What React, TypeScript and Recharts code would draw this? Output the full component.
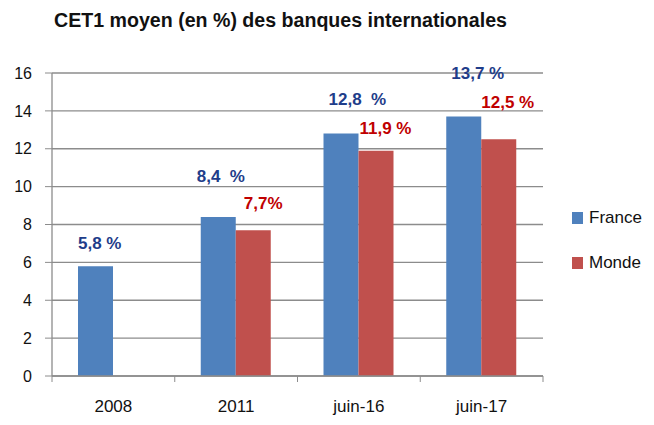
import { BarChart, Bar, XAxis, YAxis, CartesianGrid, LabelList } from 'recharts';

// ---------------------------------------------------------------------------
// Data
// ---------------------------------------------------------------------------
const periods = ['2008', '2011', 'juin-16', 'juin-17'];
const franceValues = [5.8, 8.4, 12.8, 13.7];
const mondeValues: (number | null)[] = [null, 7.7, 11.9, 12.5];
const franceLabels = ['5,8 %', '8,4  %', '12,8  %', '13,7 %'];
const mondeLabels = ['', '7,7%', '11,9 %', '12,5 %'];
const yTicks = [0, 2, 4, 6, 8, 10, 12, 14, 16];

const chartData = periods.map((period, i) => ({
  period,
  france: franceValues[i],
  monde: mondeValues[i],
}));

// ---------------------------------------------------------------------------
// Theme
// ---------------------------------------------------------------------------
const FONT = '"Liberation Sans", Arial, sans-serif';
const BLUE = '#4F81BD';
const RED = '#C0504D';
const BLUE_TEXT = '#1F3D8A';
const RED_TEXT = '#C00000';
const GRID = '#8C8C8C';

// label nudges (x from bar left, y = distance of text centre above bar top)
const franceNudge = [
  { dx: 0, dy: 23 },
  { dx: -4, dy: 40 },
  { dx: 5, dy: 34 },
  { dx: 5, dy: 43 },
];
const mondeNudge = [
  { dx: 0, dy: 0 },
  { dx: 8, dy: 27 },
  { dx: 1, dy: 22 },
  { dx: 0, dy: 37 },
];

function makeLabel(
  values: (number | null)[],
  texts: string[],
  nudge: { dx: number; dy: number }[],
  color: string,
) {
  return function ValueLabel(props: any) {
    const { x, y, value } = props;
    // null entries are skipped by LabelList, so find the row from the value
    const i = values.indexOf(Number(value));
    if (i < 0 || x == null || y == null) return null;
    const text = texts[i];
    const n = nudge[i];
    return (
      <text
        x={Number(x) + n.dx}
        y={Number(y) - n.dy}
        fill={color}
        fontFamily={FONT}
        fontSize={17}
        fontWeight={700}
        dominantBaseline="central"
        style={{ whiteSpace: 'pre' }}
      >
        {text}
      </text>
    );
  };
}

const TICK_MARGIN = 22;

// category label + boundary tick marks
function PeriodTick(props: any) {
  const { x, y, payload, index } = props;
  const half = payload?.offset ?? 61.4;
  const axisY = y - TICK_MARGIN;
  return (
    <g>
      <line x1={x - half} y1={axisY} x2={x - half} y2={axisY + 6} stroke={GRID} strokeWidth={1} />
      {index === periods.length - 1 && (
        <line x1={x + half} y1={axisY} x2={x + half} y2={axisY + 6} stroke={GRID} strokeWidth={1} />
      )}
      <text
        x={x}
        y={axisY + 30}
        textAnchor="middle"
        dominantBaseline="central"
        fontFamily={FONT}
        fontSize={17}
        fill="#111"
      >
        {payload.value}
      </text>
    </g>
  );
}

export default function App() {
  return (
    <div style={{ position: 'absolute', left: 0, top: 0, width: 654, height: 425, background: '#fff' }}>
      <div
        style={{
          position: 'absolute',
          left: 54,
          top: 11,
          fontFamily: FONT,
          fontWeight: 700,
          fontSize: 19.6,
          lineHeight: '19.6px',
          color: '#111',
          whiteSpace: 'nowrap',
        }}
      >
        CET1 moyen (en %) des banques internationales
      </div>

      <BarChart
        width={654}
        height={425}
        data={chartData}
        margin={{ top: 73, right: 111, bottom: 19, left: 0 }}
        barGap={0}
        barSize={35}
      >
        <CartesianGrid vertical={false} stroke={GRID} strokeWidth={1.3} />
        <XAxis
          dataKey="period"
          height={30}
          axisLine={{ stroke: GRID, strokeWidth: 1.3 }}
          tickLine={false}
          tickSize={0}
          tickMargin={TICK_MARGIN}
          tick={<PeriodTick />}
          interval={0}
        />
        <YAxis
          width={52}
          domain={[0, 16]}
          ticks={yTicks}
          interval={0}
          axisLine={{ stroke: GRID, strokeWidth: 1.3 }}
          tickLine={{ stroke: GRID }}
          tickSize={7}
          tickMargin={13}
          tick={{ fill: '#111', fontSize: 16, fontFamily: FONT }}
        />
        <Bar dataKey="france" fill={BLUE} isAnimationActive={false}>
          <LabelList dataKey="france" content={makeLabel(franceValues, franceLabels, franceNudge, BLUE_TEXT)} />
        </Bar>
        <Bar dataKey="monde" fill={RED} isAnimationActive={false}>
          <LabelList dataKey="monde" content={makeLabel(mondeValues, mondeLabels, mondeNudge, RED_TEXT)} />
        </Bar>
      </BarChart>

      {[
        { name: 'France', color: BLUE, top: 208 },
        { name: 'Monde', color: RED, top: 253 },
      ].map((item) => (
        <div
          key={item.name}
          style={{
            position: 'absolute',
            left: 572,
            top: item.top,
            height: 20,
            display: 'flex',
            alignItems: 'center',
            fontFamily: FONT,
            fontSize: 17,
            color: '#111',
          }}
        >
          <span style={{ display: 'inline-block', width: 11, height: 12, background: item.color, marginRight: 6 }} />
          {item.name}
        </div>
      ))}
    </div>
  );
}
